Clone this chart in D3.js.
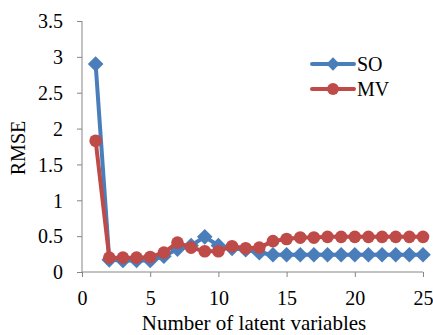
<!DOCTYPE html>
<html>
<head>
<meta charset="utf-8">
<script src="https://cdn.jsdelivr.net/npm/d3@7"></script>
<style>
  html, body { margin: 0; padding: 0; background: #fff; }
  svg text { font-family: "Liberation Serif", "Times New Roman", serif; fill: #000; }
</style>
</head>
<body>
<svg id="chart" width="433" height="335"></svg>
<script>
// Number of latent variables
const latentVars = [1,2,3,4,5,6,7,8,9,10,11,12,13,14,15,16,17,18,19,20,21,22,23,24,25];
// RMSE per model
const soValues = [2.9,0.17,0.16,0.16,0.16,0.22,0.32,0.37,0.49,0.37,0.33,0.31,0.27,0.24,0.24,0.24,0.24,0.24,0.24,0.24,0.24,0.24,0.24,0.24,0.24];
const mvValues = [1.83,0.2,0.2,0.2,0.21,0.27,0.41,0.34,0.29,0.29,0.36,0.33,0.34,0.43,0.46,0.48,0.48,0.49,0.49,0.49,0.49,0.49,0.49,0.49,0.49];
const xTicks = [0,5,10,15,20,25];
const yTicks = [0,0.5,1,1.5,2,2.5,3,3.5];
const seriesNames = ["SO", "MV"];

const blue = "#4a7ebb", red = "#be4b48", axisColor = "#868686";

const svg = d3.select("#chart");
const x = d3.scaleLinear().domain([0, 25]).range([82, 423]);
const y = d3.scaleLinear().domain([0, 3.5]).range([272, 21]);

// axes
const yAxis = svg.append("g").attr("transform", "translate(82,0)")
  .call(d3.axisLeft(y).tickValues(yTicks).tickSize(5).tickPadding(14).tickFormat(d3.format("")));
const xAxis = svg.append("g").attr("transform", "translate(0,272)")
  .call(d3.axisBottom(x).tickValues(xTicks).tickSize(5));
[xAxis, yAxis].forEach(g => {
  g.selectAll("path, line").attr("stroke", axisColor).attr("stroke-width", 1);
  g.selectAll("text").attr("font-size", 20).attr("font-family", "Liberation Serif");
});
xAxis.selectAll("text").attr("y", 33).attr("dy", 0);
yAxis.selectAll("text").attr("dy", "0.34em");
yAxis.select(".domain").attr("d", "M0,272V21");
xAxis.select(".domain").attr("d", "M82,0H423");

// series
const series = [
  { name: seriesNames[0], values: soValues, color: blue, marker: "diamond" },
  { name: seriesNames[1], values: mvValues, color: red, marker: "circle" }
];
const line = d3.line().x((d, i) => x(latentVars[i])).y(d => y(d));

function drawMarker(g, type, color, cx, cy, s) {
  if (type === "diamond") {
    g.append("path")
      .attr("d", d3.symbol().type(d3.symbolDiamond2 || d3.symbolSquare).size(s * 1.25)())
      .attr("transform", `translate(${cx},${cy}) rotate(${d3.symbolDiamond2 ? 0 : 45})`)
      .attr("fill", color);
  } else {
    g.append("circle").attr("cx", cx).attr("cy", cy).attr("r", Math.sqrt(s / Math.PI)).attr("fill", color);
  }
}

series.forEach(s => {
  const g = svg.append("g");
  g.append("path").datum(s.values).attr("d", line)
    .attr("fill", "none").attr("stroke", s.color).attr("stroke-width", 4)
    .attr("stroke-linejoin", "round");
  s.values.forEach((v, i) => drawMarker(g, s.marker, s.color, x(latentVars[i]), y(v), 125));
});

// legend
series.forEach((s, i) => {
  const ly = 64 + i * 25;
  const g = svg.append("g");
  g.append("line").attr("x1", 312).attr("x2", 354).attr("y1", ly).attr("y2", ly)
    .attr("stroke", s.color).attr("stroke-width", 4).attr("stroke-linecap", "round");
  drawMarker(g, s.marker, s.color, 333, ly, s.marker === "diamond" ? 90 : 110);
  g.append("text").attr("x", 357).attr("y", ly + 6.5).attr("font-size", 20).text(s.name);
});

// axis titles
svg.append("text").attr("x", 254).attr("y", 329.5).attr("text-anchor", "middle")
  .attr("font-size", 21).text("Number of latent variables");
svg.append("text").attr("transform", "translate(25,148) rotate(-90)").attr("text-anchor", "middle")
  .attr("font-size", 20).text("RMSE");
</script>
</body>
</html>
